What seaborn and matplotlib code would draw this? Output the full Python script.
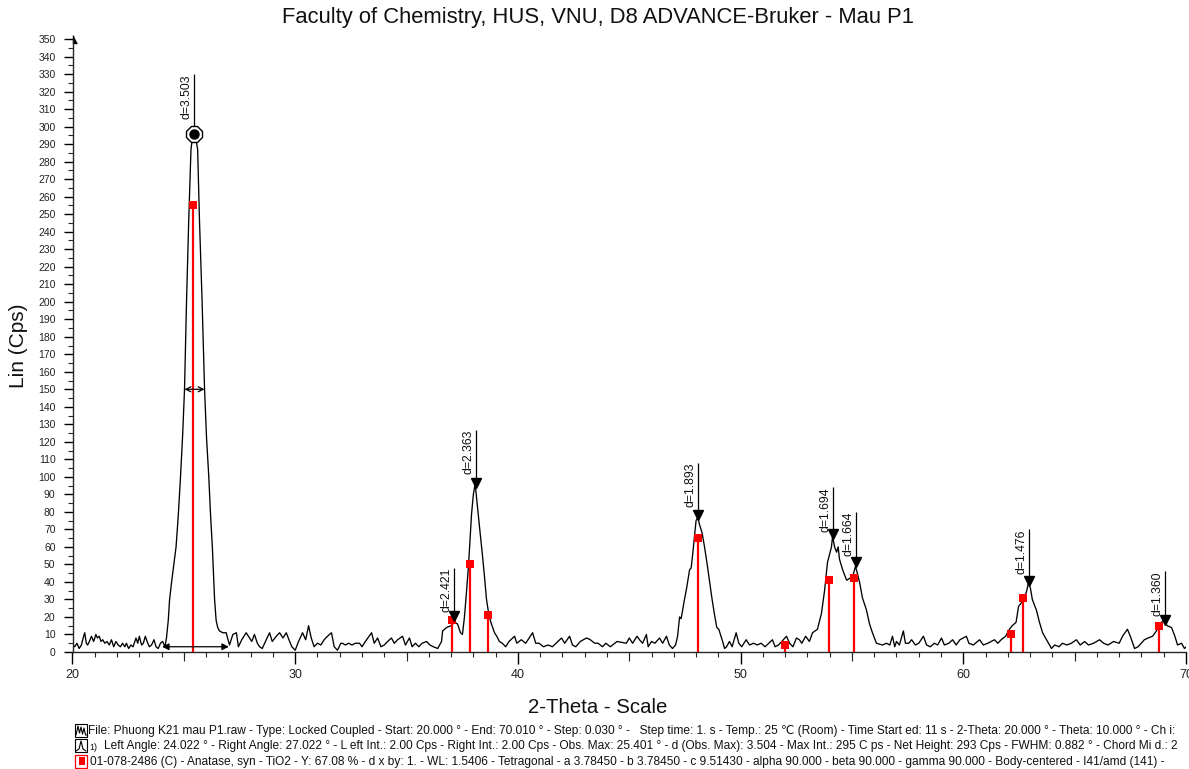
import matplotlib
matplotlib.use("Agg")
import matplotlib.pyplot as plt
import matplotlib.transforms as mtransforms
from matplotlib.patches import Rectangle
from matplotlib.lines import Line2D
from matplotlib.ticker import MultipleLocator, FixedLocator
import seaborn as sns
import pandas as pd

# ---------------- data ----------------
two_theta = [
    20.00, 20.10, 20.20, 20.30, 20.40, 20.48, 20.55, 20.62, 20.68, 20.76, 20.85, 20.95,
    21.05, 21.12, 21.20, 21.28, 21.36, 21.45, 21.55, 21.65, 21.75, 21.85, 21.95, 22.05,
    22.15, 22.25, 22.35, 22.42, 22.52, 22.62, 22.72, 22.85, 22.93, 23.00, 23.10, 23.18,
    23.27, 23.35, 23.45, 23.55, 23.66, 23.75, 23.85, 23.95, 24.05, 24.15, 24.22, 24.30,
    24.36, 24.45, 24.55, 24.65, 24.75, 24.85, 24.95, 25.03, 25.12, 25.22, 25.32, 25.40,
    25.46, 25.52, 25.62, 25.70, 25.82, 25.93, 26.02, 26.12, 26.20, 26.28, 26.33, 26.38,
    26.45, 26.52, 26.60, 26.75, 26.90, 27.05, 27.20, 27.36, 27.45, 27.60, 27.80, 27.95,
    28.05, 28.17, 28.30, 28.40, 28.52, 28.70, 28.85, 28.97, 29.15, 29.30, 29.45, 29.60,
    29.72, 29.85, 30.00, 30.15, 30.33, 30.47, 30.60, 30.72, 30.85, 31.00, 31.15, 31.30,
    31.45, 31.63, 31.75, 31.90, 32.05, 32.12, 32.25, 32.40, 32.55, 32.70, 32.89, 33.00,
    33.15, 33.43, 33.55, 33.70, 33.85, 34.00, 34.15, 34.32, 34.45, 34.60, 34.82, 34.95,
    35.13, 35.25, 35.40, 35.55, 35.70, 35.90, 36.05, 36.20, 36.40, 36.57, 36.62, 36.80,
    37.00, 37.15, 37.29, 37.42, 37.51, 37.60, 37.69, 37.78, 37.83, 37.92, 38.00, 38.08,
    38.19, 38.32, 38.41, 38.50, 38.59, 38.70, 38.81, 38.95, 39.05, 39.17, 39.30, 39.45,
    39.60, 39.85, 39.95, 40.15, 40.35, 40.66, 40.80, 40.95, 41.15, 41.35, 41.55, 41.96,
    42.10, 42.32, 42.45, 42.60, 42.80, 43.08, 43.25, 43.45, 43.60, 43.80, 43.95, 44.15,
    44.45, 44.87, 45.00, 45.15, 45.35, 45.46, 45.60, 45.77, 45.85, 46.00, 46.15, 46.36,
    46.50, 46.67, 46.80, 46.94, 47.08, 47.17, 47.26, 47.33, 47.48, 47.57, 47.71, 47.78,
    47.85, 47.93, 48.00, 48.08, 48.15, 48.27, 48.38, 48.50, 48.60, 48.72, 48.82, 48.93,
    49.02, 49.17, 49.28, 49.37, 49.50, 49.62, 49.80, 49.92, 50.05, 50.25, 50.40, 50.58,
    50.75, 50.92, 51.10, 51.43, 51.55, 51.70, 51.85, 52.06, 52.20, 52.35, 52.51, 52.64,
    52.75, 52.92, 53.09, 53.23, 53.45, 53.63, 53.77, 53.90, 54.08, 54.13, 54.22, 54.31,
    54.38, 54.44, 54.58, 54.76, 54.89, 55.03, 55.16, 55.34, 55.47, 55.65, 55.79, 55.92,
    56.10, 56.37, 56.55, 56.70, 56.82, 56.92, 57.00, 57.13, 57.31, 57.40, 57.55, 57.68,
    57.85, 58.00, 58.21, 58.35, 58.52, 58.70, 58.85, 59.02, 59.15, 59.35, 59.52, 59.68,
    59.85, 60.14, 60.25, 60.45, 60.73, 60.90, 61.10, 61.40, 61.55, 61.70, 61.90, 62.07,
    62.20, 62.37, 62.48, 62.60, 62.75, 62.85, 62.93, 63.02, 63.10, 63.28, 63.42, 63.56,
    63.74, 63.96, 64.10, 64.30, 64.45, 64.65, 64.85, 65.08, 65.25, 65.45, 65.62, 65.85,
    66.12, 66.30, 66.50, 66.75, 67.00, 67.15, 67.37, 67.50, 67.69, 67.85, 68.13, 68.30,
    68.50, 68.67, 68.90, 69.04, 69.15, 69.35, 69.50, 69.62, 69.80, 69.93, 70.01,
]
lin_cps = [
    4, 3, 5, 2, 4, 8, 11, 5, 4, 6, 9, 6,
    10, 8, 9, 6, 7, 5, 6, 4, 7, 3, 6, 4,
    3, 5, 3, 5, 2, 4, 3, 8, 5, 9, 4, 5,
    9, 6, 3, 4, 7, 3, 2, 5, 6, 3, 8, 18,
    30, 40, 50, 60, 78, 100, 125, 150, 200, 247, 287, 295,
    296, 294, 287, 247, 200, 150, 122, 100, 78, 60, 45, 30,
    18, 14, 12, 11, 11, 4, 10, 11, 3, 7, 11, 8,
    6, 10, 5, 3, 2, 7, 11, 6, 9, 11, 8, 11,
    7, 3, 1, 6, 11, 7, 15, 8, 3, 5, 4, 7,
    9, 11, 3, 1, 5, 5, 4, 5, 4, 5, 5, 3,
    6, 11, 5, 8, 3, 4, 6, 8, 5, 7, 9, 4,
    8, 3, 5, 3, 5, 6, 4, 3, 2, 6, 12, 14,
    15, 17, 16, 11, 10, 20, 34, 49, 60, 79, 90, 96,
    82, 66, 55, 43, 30, 21, 16, 11, 9, 6, 5, 3,
    6, 9, 5, 7, 5, 11, 5, 5, 3, 4, 3, 8,
    5, 9, 4, 3, 6, 8, 7, 5, 5, 3, 5, 3,
    6, 5, 8, 5, 9, 7, 5, 10, 3, 6, 5, 8,
    5, 9, 4, 2, 4, 9, 20, 19, 30, 36, 47, 48,
    56, 66, 75, 77, 73, 68, 60, 50, 41, 30, 22, 14,
    13, 7, 2, 3, 6, 3, 11, 5, 3, 7, 4, 5,
    4, 5, 3, 7, 3, 4, 6, 9, 5, 3, 8, 7,
    5, 9, 6, 11, 13, 22, 35, 51, 60, 66, 60, 57,
    60, 53, 47, 41, 42, 43, 49, 40, 31, 24, 16, 11,
    5, 4, 5, 4, 9, 3, 6, 4, 12, 5, 5, 7,
    4, 5, 9, 4, 3, 5, 4, 8, 4, 5, 7, 4,
    7, 9, 5, 4, 7, 4, 5, 7, 5, 7, 9, 13,
    15, 17, 26, 28, 31, 35, 40, 36, 30, 24, 17, 11,
    7, 2, 4, 3, 5, 4, 5, 7, 4, 6, 4, 5,
    7, 5, 4, 6, 5, 9, 13, 9, 2, 3, 7, 8,
    9, 12, 17, 18, 15, 14, 9, 4, 5, 2, 3,
]

# Anatase reference pattern (01-078-2486)
stick_theta = [25.40, 37.05, 37.83, 38.65, 48.10, 52.00, 53.95, 55.11, 62.15, 62.70, 68.81]
stick_lin = [255, 18, 50, 21, 65, 4, 41, 42, 10, 31, 15]

# Peak search labels
peak_labels = ["d=3.503", "d=2.421", "d=2.363", "d=1.893", "d=1.694", "d=1.664", "d=1.476", "d=1.360"]
peak_theta = [25.44, 37.15, 38.10, 48.07, 54.13, 55.16, 62.93, 69.04]
peak_lin = [296, 19, 95, 77, 66, 50, 39, 17]
peak_label_top = [330, 48, 127, 108, 94, 80, 70, 46]

# Peak 1 evaluation (FWHM and left/right angle)
fwhm_theta = [25.03, 25.93]
fwhm_lin = 150
range_theta = [24.022, 27.022]
range_lin = 3

x_ticks = [20, 30, 40, 50, 60, 70]
y_ticks = list(range(0, 351, 10))

title = "Faculty of Chemistry, HUS, VNU, D8 ADVANCE-Bruker - Mau P1"
legend_lines = [
    "File: Phuong K21 mau P1.raw - Type: Locked Coupled - Start: 20.000 ° - End: 70.010 ° - Step: 0.030 ° -   Step time: 1. s - Temp.: 25 ℃ (Room) - Time Start ed: 11 s - 2-Theta: 20.000 ° - Theta: 10.000 ° - Ch i:",
    "Left Angle: 24.022 ° - Right Angle: 27.022 ° - L eft Int.: 2.00 Cps - Right Int.: 2.00 Cps - Obs. Max: 25.401 ° - d (Obs. Max): 3.504 - Max Int.: 295 C ps - Net Height: 293 Cps - FWHM: 0.882 ° - Chord Mi d.: 2",
    "01-078-2486 (C) - Anatase, syn - TiO2 - Y: 67.08 % - d x by: 1. - WL: 1.5406 - Tetragonal - a 3.78450 - b 3.78450 - c 9.51430 - alpha 90.000 - beta 90.000 - gamma 90.000 - Body-centered - I41/amd (141) -",
]

# ---------------- style ----------------
sns.set_theme(style="ticks")
FONT = ["Liberation Sans", "DejaVu Sans"]
plt.rcParams["font.family"] = FONT
plt.rcParams["axes.linewidth"] = 1.0

W, H = 1189, 769
fig = plt.figure(figsize=(W / 100, H / 100), dpi=100)
fig.patch.set_facecolor("white")
ax_left, ax_right = 72.5, 1186
ax = fig.add_axes([ax_left / W, 1 - 652 / H, (ax_right - ax_left) / W, (652 - 39) / H])
ax.set_facecolor("white")

df = pd.DataFrame({"two_theta": two_theta, "lin": lin_cps})
sns.lineplot(data=df, x="two_theta", y="lin", color="black", linewidth=0.95,
             ax=ax, estimator=None, sort=False)

# reference sticks
RED = "#ff0000"
ax.vlines(stick_theta, 0, stick_lin, color=RED, linewidth=1.6, zorder=3)
ax.plot(stick_theta, stick_lin, linestyle="none", marker="s", markersize=5.4,
        color=RED, markeredgewidth=0, zorder=4)

# peak markers
ax.vlines(peak_theta, peak_lin, peak_label_top, color="black", linewidth=0.9, zorder=5)
ax.plot(peak_theta[1:], [v + 1.5 for v in peak_lin[1:]], linestyle="none", marker="v",
        markersize=6.5, color="black", zorder=6)
ax.plot(peak_theta[:1], peak_lin[:1], linestyle="none", marker="8", markersize=13,
        markerfacecolor="white", markeredgecolor="black", markeredgewidth=1.0, zorder=6)
ax.plot(peak_theta[:1], peak_lin[:1], linestyle="none", marker="o", markersize=6.5,
        color="black", zorder=7)
txt_tr = mtransforms.offset_copy(ax.transData, fig=fig, x=-1.5, y=0, units="dots")
for lbl, xt, top in zip(peak_labels, peak_theta, peak_label_top):
    ax.text(xt, top, lbl, rotation=90, ha="right", va="top", fontsize=8.8,
            transform=txt_tr, color="#111111")

# FWHM and range arrows
ax.annotate("", xy=(fwhm_theta[0], fwhm_lin), xytext=(fwhm_theta[1], fwhm_lin),
            arrowprops=dict(arrowstyle="<->", color="black", lw=0.9,
                            shrinkA=0, shrinkB=0, mutation_scale=9))
ax.annotate("", xy=(range_theta[0], range_lin), xytext=(range_theta[1], range_lin),
            arrowprops=dict(arrowstyle="<|-|>", color="black", lw=0.9,
                            shrinkA=0, shrinkB=0, mutation_scale=10), zorder=8)

# axes
ax.set_xlim(x_ticks[0], x_ticks[-1])
ax.set_ylim(y_ticks[0], y_ticks[-1])
sns.despine(ax=ax, top=True, right=True)
ax.xaxis.set_major_locator(FixedLocator(x_ticks))
ax.xaxis.set_minor_locator(MultipleLocator(1))
ax.yaxis.set_major_locator(FixedLocator(y_ticks))
ax.yaxis.set_minor_locator(MultipleLocator(5))
ax.set_xticklabels([str(v) for v in x_ticks])
ax.set_yticklabels([str(v) for v in y_ticks])
ax.tick_params(axis="x", which="major", length=8.6, width=1.0, direction="out",
               labelsize=9, pad=4, colors="black")
ax.tick_params(axis="x", which="minor", length=3.6, width=0.8, direction="out")
ax.tick_params(axis="y", which="major", length=6.2, width=1.0, direction="out",
               labelsize=7.5, pad=6, colors="black")
ax.tick_params(axis="y", which="minor", length=3.8, width=0.8, direction="out")
for lab in ax.get_xticklabels() + ax.get_yticklabels():
    lab.set_color("#222222")
sec = ax.secondary_xaxis("bottom")
sec.set_xticks([25, 35, 45, 55, 65])
sec.tick_params(axis="x", length=6.3, width=0.8, labelbottom=False)
sec.spines["bottom"].set_visible(False)

# arrow head at top of y axis
ax.plot([0], [1], transform=ax.transAxes, clip_on=False, linestyle="none",
        marker=[(0, 1), (0, -1), (1.1, -1)], markersize=6, color="black")

ax.set_xlabel("2-Theta - Scale", fontsize=14.7, color="#111111")
ax.xaxis.set_label_coords((598 - ax_left) / (ax_right - ax_left), -0.075)
ax.set_ylabel("Lin (Cps)", fontsize=15, color="#111111")
ax.yaxis.set_label_coords((28 - ax_left) / (ax_right - ax_left), 0.5)
fig.text(598 / W, 1 - 18 / H, title, ha="center", va="center", fontsize=15.8, color="#111111")

# bottom legend block
def px(x, y):
    return x / W, 1 - y / H

# icon 1: scan
x0, y0 = px(75, 737)
fig.add_artist(Rectangle((x0, y0), 12 / W, 13 / H, fill=False, ec="black", lw=0.8,
                         transform=fig.transFigure))
zx = [76, 78, 79.5, 81, 82.5, 84, 85.5, 86.5]
zy = [735, 726, 733, 727, 734, 728, 735, 735]
fig.add_artist(Line2D([a / W for a in zx], [1 - b / H for b in zy], color="black", lw=0.8,
                      transform=fig.transFigure))
# icon 2: peak
x0, y0 = px(75, 752)
fig.add_artist(Rectangle((x0, y0), 12 / W, 13 / H, fill=False, ec="black", lw=0.8,
                         transform=fig.transFigure))
zx = [76, 79, 81, 83, 86]
zy = [751, 749, 741, 749, 751]
fig.add_artist(Line2D([a / W for a in zx], [1 - b / H for b in zy], color="black", lw=0.8,
                      transform=fig.transFigure))
# icon 3: reference pattern
x0, y0 = px(75, 768)
fig.add_artist(Rectangle((x0, y0), 12 / W, 13 / H, fill=False, ec=RED, lw=0.9,
                         transform=fig.transFigure))
x0, y0 = px(78.5, 765)
fig.add_artist(Rectangle((x0, y0), 6 / W, 8 / H, fill=True, fc=RED, ec=RED, lw=0,
                         transform=fig.transFigure))

LFS = 8.6
fig.text(*px(88, 731), legend_lines[0], ha="left", va="center", fontsize=LFS,
         family=FONT, color="#111111")
fig.text(*px(89, 747), "1)", ha="left", va="center", fontsize=6.5, family=FONT, color="#111111")
fig.text(*px(104, 746), legend_lines[1], ha="left", va="center", fontsize=LFS,
         family=FONT, color="#111111")
fig.text(*px(90, 762), legend_lines[2], ha="left", va="center", fontsize=LFS,
         family=FONT, color="#111111")

fig.savefig("out.png", dpi=100, facecolor="white")
